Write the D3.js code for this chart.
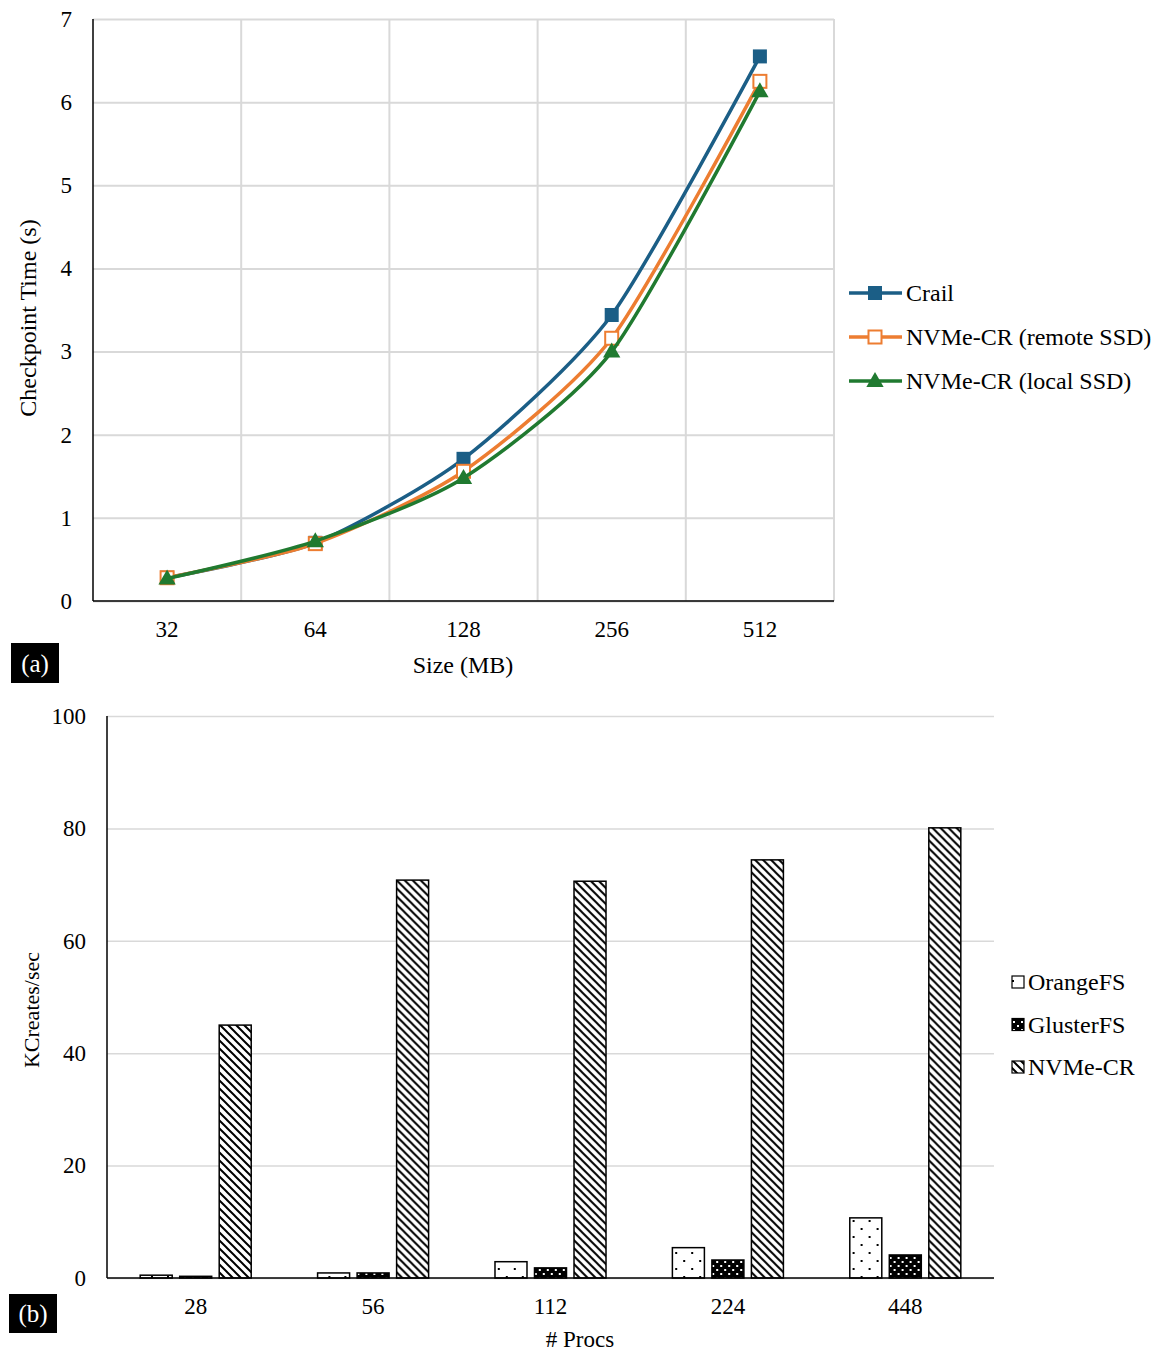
<!DOCTYPE html>
<html>
<head>
<meta charset="utf-8">
<script src="https://cdn.jsdelivr.net/npm/d3@7"></script>
<style>
  html, body { margin: 0; padding: 0; background: #fff; }
  svg { display: block; }
  text { font-family: "Liberation Serif", "Times New Roman", serif; fill: #000; }
</style>
</head>
<body>
<svg id="chart" width="1157" height="1351"></svg>
<script>
// ---- (a) checkpoint time vs. size ----
const sizes = ["32", "64", "128", "256", "512"];
const crailTime = [0.28, 0.70, 1.71, 3.44, 6.55];
const remoteSsdTime = [0.28, 0.69, 1.56, 3.16, 6.25];
const localSsdTime = [0.27, 0.72, 1.48, 3.00, 6.13];
const timeTicks = [0, 1, 2, 3, 4, 5, 6, 7];

// ---- (b) file create rate vs. process count ----
const procs = ["28", "56", "112", "224", "448"];
const orangeFS = [0.5, 0.9, 2.9, 5.4, 10.7];
const glusterFS = [0.3, 0.9, 1.8, 3.2, 4.1];
const nvmeCR = [45.0, 70.8, 70.6, 74.4, 80.1];
const rateTicks = [0, 20, 40, 60, 80, 100];

const svg = d3.select("#chart");
const FONT = 23;
const SERIF = '"Liberation Serif", "Times New Roman", serif';
const GRID = "#d9d9d9";

function styleTicks(g) {
  g.attr("font-family", null).attr("font-size", null);
  g.selectAll("text").style("font-size", FONT + "px").style("font-family", SERIF);
}

// ================= Panel (a) =================
const a = { left: 93, right: 834, top: 19, bottom: 601 };
const xa = d3.scaleBand().domain(sizes).range([a.left, a.right]);
const ya = d3.scaleLinear().domain([0, 7]).range([a.bottom, a.top]);
const cx = d => xa(d) + xa.bandwidth() / 2;

const ga = svg.append("g");
// horizontal grid
ga.append("g")
  .attr("transform", `translate(${a.left},0)`)
  .call(d3.axisLeft(ya).tickValues(timeTicks).tickSize(-(a.right - a.left)).tickFormat(""))
  .call(g => g.select(".domain").remove())
  .call(g => g.selectAll("line").attr("stroke", GRID).attr("stroke-width", 2));
// vertical grid at category boundaries
ga.append("g").selectAll("line")
  .data(sizes.slice(1).concat(["end"]))
  .join("line")
  .attr("x1", (d, i) => i < sizes.length - 1 ? xa(d) : a.right)
  .attr("x2", (d, i) => i < sizes.length - 1 ? xa(d) : a.right)
  .attr("y1", a.top).attr("y2", a.bottom)
  .attr("stroke", GRID).attr("stroke-width", 2);

// y tick labels
ga.append("g")
  .attr("transform", `translate(${a.left},0)`)
  .call(d3.axisLeft(ya).tickValues(timeTicks).tickFormat(d3.format("d")).tickSize(0).tickPadding(21))
  .call(g => g.select(".domain").remove())
  .call(styleTicks);
// x tick labels
ga.append("g")
  .attr("transform", `translate(0,${a.bottom})`)
  .call(d3.axisBottom(xa).tickSize(0).tickPadding(20))
  .call(g => g.select(".domain").remove())
  .call(styleTicks);

// axis lines
ga.append("line").attr("x1", a.left).attr("x2", a.left).attr("y1", a.top).attr("y2", a.bottom)
  .attr("stroke", "#000").attr("stroke-width", 1.5);
ga.append("line").attr("x1", a.left).attr("x2", a.right).attr("y1", a.bottom).attr("y2", a.bottom)
  .attr("stroke", "#000").attr("stroke-width", 1.5);

// axis titles
ga.append("text").attr("transform", `translate(36,318) rotate(-90)`)
  .attr("text-anchor", "middle").style("font-size", "24px").text("Checkpoint Time (s)");
ga.append("text").attr("x", 463).attr("y", 673)
  .attr("text-anchor", "middle").style("font-size", "24px").text("Size (MB)");

const lineSeries = [
  { name: "Crail", values: crailTime, color: "#1b5e86", marker: "filledSquare" },
  { name: "NVMe-CR (remote SSD)", values: remoteSsdTime, color: "#ed7d31", marker: "hollowSquare" },
  { name: "NVMe-CR (local SSD)", values: localSsdTime, color: "#207a30", marker: "triangle" }
];

const line = d3.line().x(d => cx(d.k)).y(d => ya(d.v)).curve(d3.curveCardinal.tension(0.3));

function drawMarker(g, type, color, x, y) {
  if (type === "filledSquare") {
    g.append("rect").attr("x", x - 7).attr("y", y - 7).attr("width", 14).attr("height", 14)
      .attr("fill", color);
  } else if (type === "hollowSquare") {
    g.append("rect").attr("x", x - 6.5).attr("y", y - 6.5).attr("width", 13).attr("height", 13)
      .attr("fill", "#fff").attr("stroke", color).attr("stroke-width", 2);
  } else {
    g.append("path").attr("d", d3.symbol(d3.symbolTriangle, 130)())
      .attr("transform", `translate(${x},${y + 1})`).attr("fill", color);
  }
}

lineSeries.forEach(s => {
  const pts = sizes.map((k, i) => ({ k, v: s.values[i] }));
  const g = ga.append("g");
  g.append("path").datum(pts).attr("d", line)
    .attr("fill", "none").attr("stroke", s.color).attr("stroke-width", 3.5)
    .attr("stroke-linejoin", "round");
  pts.forEach(p => drawMarker(g, s.marker, s.color, cx(p.k), ya(p.v)));
});

// legend (a)
const legA = svg.append("g");
lineSeries.forEach((s, i) => {
  const yy = 293 + i * 44;
  legA.append("line").attr("x1", 849).attr("x2", 902).attr("y1", yy).attr("y2", yy)
    .attr("stroke", s.color).attr("stroke-width", 3.5);
  drawMarker(legA, s.marker, s.color, 875, yy);
  legA.append("text").attr("x", 906).attr("y", yy).attr("dy", "0.35em")
    .style("font-size", "24px").text(s.name);
});

// panel tag (a)
svg.append("rect").attr("x", 11).attr("y", 643).attr("width", 48).attr("height", 40).attr("fill", "#000");
svg.append("text").attr("x", 35).attr("y", 663).attr("dy", "0.35em").attr("text-anchor", "middle")
  .style("font-size", "25px").style("fill", "#fff").text("(a)");

// ================= Panel (b) =================
const defs = svg.append("defs");
// sparse dots on white
const pDots = defs.append("pattern").attr("id", "pat-orange").attr("patternUnits", "userSpaceOnUse")
  .attr("width", 16).attr("height", 16);
pDots.append("rect").attr("width", 16).attr("height", 16).attr("fill", "#fff");
pDots.append("rect").attr("x", 4).attr("y", 4).attr("width", 2).attr("height", 2).attr("fill", "#000");
pDots.append("rect").attr("x", 12).attr("y", 12).attr("width", 2).attr("height", 2).attr("fill", "#000");
// white dots on black
const pDark = defs.append("pattern").attr("id", "pat-gluster").attr("patternUnits", "userSpaceOnUse")
  .attr("width", 8).attr("height", 8);
pDark.append("rect").attr("width", 8).attr("height", 8).attr("fill", "#000");
pDark.append("rect").attr("x", 1).attr("y", 1).attr("width", 2).attr("height", 2).attr("fill", "#fff");
pDark.append("rect").attr("x", 5).attr("y", 5).attr("width", 2).attr("height", 2).attr("fill", "#fff");
// downward diagonal stripes
const pDiag = defs.append("pattern").attr("id", "pat-nvme").attr("patternUnits", "userSpaceOnUse")
  .attr("width", 8).attr("height", 8);
pDiag.append("rect").attr("width", 8).attr("height", 8).attr("fill", "#fff");
pDiag.append("path").attr("d", "M-2,-2L10,10M-2,6L2,10M6,-2L10,2")
  .attr("stroke", "#000").attr("stroke-width", 2);

const b = { left: 107, right: 994, top: 716, bottom: 1278 };
const xb = d3.scaleBand().domain(procs).range([b.left, b.right]);
const barKeys = ["OrangeFS", "GlusterFS", "NVMe-CR"];
const barValues = { "OrangeFS": orangeFS, "GlusterFS": glusterFS, "NVMe-CR": nvmeCR };
const barFill = { "OrangeFS": "url(#pat-orange)", "GlusterFS": "url(#pat-gluster)", "NVMe-CR": "url(#pat-nvme)" };
const xb1 = d3.scaleBand().domain(barKeys).range([0, xb.bandwidth()])
  .paddingInner(0.19).paddingOuter(0.84);
const yb = d3.scaleLinear().domain([0, 100]).range([b.bottom, b.top]);

const gb = svg.append("g");
gb.append("g")
  .attr("transform", `translate(${b.left},0)`)
  .call(d3.axisLeft(yb).tickValues(rateTicks).tickSize(-(b.right - b.left)).tickFormat(""))
  .call(g => g.select(".domain").remove())
  .call(g => g.selectAll("line").attr("stroke", GRID).attr("stroke-width", 1.5));
gb.append("g")
  .attr("transform", `translate(${b.left},0)`)
  .call(d3.axisLeft(yb).tickValues(rateTicks).tickSize(0).tickPadding(21))
  .call(g => g.select(".domain").remove())
  .call(styleTicks);
gb.append("g")
  .attr("transform", `translate(0,${b.bottom})`)
  .call(d3.axisBottom(xb).tickSize(0).tickPadding(20))
  .call(g => g.select(".domain").remove())
  .call(styleTicks);

// bars
const groups = gb.append("g").selectAll("g").data(procs).join("g")
  .attr("transform", d => `translate(${xb(d)},0)`);
groups.selectAll("rect")
  .data((p, i) => barKeys.map(k => ({ k, v: barValues[k][i] })))
  .join("rect")
  .attr("x", d => xb1(d.k))
  .attr("width", xb1.bandwidth())
  .attr("y", d => yb(d.v))
  .attr("height", d => yb(0) - yb(d.v))
  .attr("fill", d => barFill[d.k])
  .attr("stroke", "#000").attr("stroke-width", 1.5);

gb.append("line").attr("x1", b.left).attr("x2", b.left).attr("y1", b.top).attr("y2", b.bottom)
  .attr("stroke", "#000").attr("stroke-width", 1.5);
gb.append("line").attr("x1", b.left).attr("x2", b.right).attr("y1", b.bottom).attr("y2", b.bottom)
  .attr("stroke", "#000").attr("stroke-width", 1.5);

gb.append("text").attr("transform", `translate(39,1010) rotate(-90)`)
  .attr("text-anchor", "middle").style("font-size", "22px").text("KCreates/sec");
gb.append("text").attr("x", 580).attr("y", 1347)
  .attr("text-anchor", "middle").style("font-size", "23px").text("# Procs");

// legend (b)
const legB = svg.append("g");
barKeys.forEach((k, i) => {
  const yy = 982 + i * 42.5;
  legB.append("rect").attr("x", 1012).attr("y", yy - 6).attr("width", 12).attr("height", 12)
    .attr("fill", barFill[k]).attr("stroke", "#000").attr("stroke-width", 1.2);
  legB.append("text").attr("x", 1028).attr("y", yy).attr("dy", "0.35em")
    .style("font-size", "24px").text(k);
});

// panel tag (b)
svg.append("rect").attr("x", 9).attr("y", 1294).attr("width", 48).attr("height", 39).attr("fill", "#000");
svg.append("text").attr("x", 33).attr("y", 1313).attr("dy", "0.35em").attr("text-anchor", "middle")
  .style("font-size", "25px").style("fill", "#fff").text("(b)");
</script>
</body>
</html>
